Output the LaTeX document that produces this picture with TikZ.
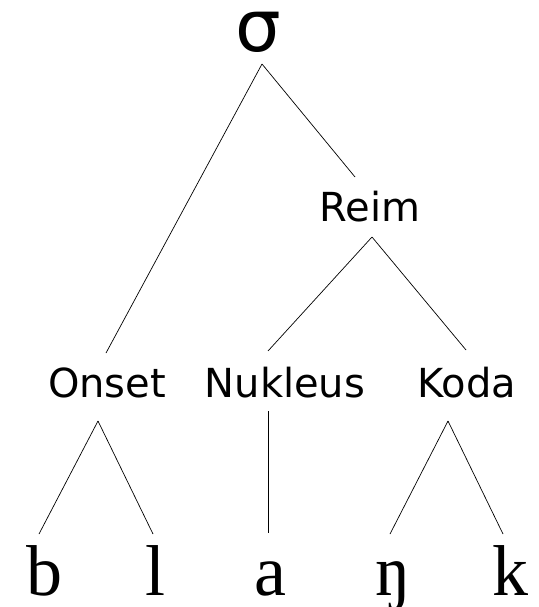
\documentclass[tikz,border=0pt]{standalone}
\usepackage{fontspec}
\setmainfont{Liberation Serif}
\newfontfamily\sansfam{DejaVu Sans}
\usetikzlibrary{calc}

\tikzset{
  root/.style={font=\sansfam\fontsize{72}{80}\selectfont, inner sep=0pt, text height=40pt, text depth=0pt, anchor=base},
  cat/.style={font=\sansfam\fontsize{40}{48}\selectfont, inner sep=0pt, anchor=base},
  seg/.style={font=\fontsize{72}{80}\selectfont, inner sep=0pt, text height=50pt, text depth=0pt, anchor=base},
  branch/.style={line width=0.7pt}
}

\begin{document}
\begin{tikzpicture}[x=1pt,y=-1pt]
\useasboundingbox (0,0) rectangle (538,607);
% syllable and its constituents
\node[root] (sigma) at (258,52) {σ};
\node[cat] (reim) at (370,221) {Reim};
\node[cat] (onset) at (107,397) {Onset};
\node[cat] (nukleus) at (285,397) {Nukleus};
\node[cat] (koda) at (467,397) {Koda};
% segments
\node[seg] (b) at (44,595) {b};
\node[seg] (l) at (156,595) {l};
\node[seg] (a) at (270,595) {a};
\node[seg] (ng) at (393,595) {ŋ};
\node[seg] (k) at (510,595) {k};
% branches
\draw[branch] ($(sigma.base)+(4,12)$) -- ($(onset.base)+(-1,-44)$);
\draw[branch] ($(sigma.base)+(4,12)$) -- ($(reim.base)+(-15,-44)$);
\draw[branch] ($(reim.base)+(2,16)$) -- ($(nukleus.base)+(-17,-46)$);
\draw[branch] ($(reim.base)+(2,16)$) -- ($(koda.base)+(-1,-47)$);
\draw[branch] ($(onset.base)+(-9,24)$) -- ($(b.base)+(-5,-61)$);
\draw[branch] ($(onset.base)+(-9,24)$) -- ($(l.base)+(-3,-61)$);
\draw[branch] ($(nukleus.base)+(-17,14)$) -- ($(a.base)+(-2,-62)$);
\draw[branch] ($(koda.base)+(-19,24)$) -- ($(ng.base)+(-3,-61)$);
\draw[branch] ($(koda.base)+(-19,24)$) -- ($(k.base)+(-7,-61)$);
\end{tikzpicture}
\end{document}
